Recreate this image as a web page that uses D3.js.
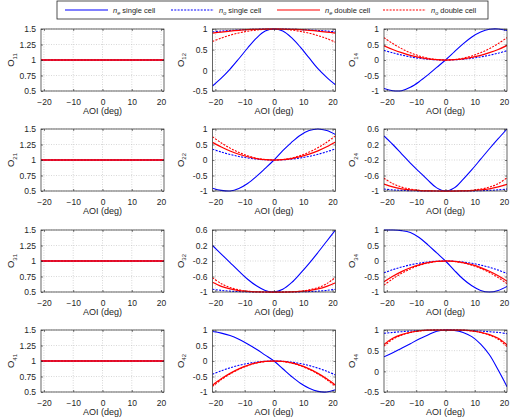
<!DOCTYPE html>
<html>
<head>
<meta charset="utf-8">
<script src="https://cdn.jsdelivr.net/npm/d3@7"></script>
<style>
body { margin: 0; background: #fff; }
text { font-family: "Liberation Sans", Arial, sans-serif; fill: #262626; }
</style>
</head>
<body>
<div id="chart"></div>
<script>
// angle of incidence samples (deg)
const AOI = [-21, -18, -15, -12, -9, -6, -3, 0, 3, 6, 9, 12, 15, 18, 21];
const AOI_TICKS = [-20, -10, 0, 10, 20];

// series order: ne single, no single, ne double, no double
const SERIES_SUB = ['e', 'o', 'e', 'o'];
const SERIES_TEXT = ['single cell', 'single cell', 'double cell', 'double cell'];

const ONES = [1, 1, 1, 1, 1, 1, 1, 1, 1, 1, 1, 1, 1, 1, 1];
const O11 = [ONES, ONES, ONES, ONES];
const O21 = [ONES, ONES, ONES, ONES];
const O31 = [ONES, ONES, ONES, ONES];
const O41 = [ONES, ONES, ONES, ONES];

const O12 = [
  [-0.38, -0.19, 0.03, 0.28, 0.54, 0.78, 0.95, 1, 0.95, 0.79, 0.56, 0.3, 0.04, -0.17, -0.35],
  [0.93, 0.95, 0.965, 0.977, 0.987, 0.994, 0.999, 1, 0.999, 0.994, 0.987, 0.977, 0.965, 0.95, 0.93],
  [0.9, 0.927, 0.95, 0.968, 0.982, 0.992, 0.998, 1, 0.998, 0.992, 0.982, 0.968, 0.95, 0.927, 0.9],
  [0.7, 0.78, 0.85, 0.905, 0.945, 0.975, 0.994, 1, 0.994, 0.974, 0.942, 0.9, 0.84, 0.77, 0.68]
];
const O14 = [
  [-0.92, -0.99, -0.99, -0.88, -0.7, -0.48, -0.24, 0, 0.26, 0.52, 0.74, 0.9, 0.99, 1.0, 0.95],
  [0.31, 0.23, 0.16, 0.1, 0.056, 0.025, 0.006, 0, 0.006, 0.024, 0.055, 0.098, 0.153, 0.22, 0.3],
  [0.46, 0.338, 0.235, 0.15, 0.085, 0.038, 0.009, 0, 0.009, 0.038, 0.085, 0.15, 0.235, 0.338, 0.47],
  [0.72, 0.53, 0.367, 0.235, 0.132, 0.059, 0.015, 0, 0.015, 0.059, 0.132, 0.235, 0.367, 0.53, 0.72]
];
const O22 = [
  [-0.91, -0.98, -1.0, -0.92, -0.76, -0.53, -0.27, 0, 0.3, 0.57, 0.8, 0.95, 1.0, 0.95, 0.82],
  [0.35, 0.257, 0.179, 0.114, 0.064, 0.029, 0.007, 0, 0.007, 0.029, 0.066, 0.118, 0.184, 0.265, 0.36],
  [0.57, 0.419, 0.291, 0.186, 0.105, 0.047, 0.012, 0, 0.012, 0.047, 0.107, 0.189, 0.296, 0.426, 0.58],
  [0.75, 0.551, 0.383, 0.245, 0.138, 0.061, 0.015, 0, 0.016, 0.064, 0.143, 0.255, 0.398, 0.573, 0.78]
];
const O24 = [
  [0.42, 0.2, -0.04, -0.28, -0.5, -0.72, -0.92, -1, -0.92, -0.7, -0.45, -0.18, 0.09, 0.35, 0.6],
  [-0.95, -0.971, -0.984, -0.992, -0.997, -0.999, -1, -1, -1, -0.999, -0.997, -0.992, -0.984, -0.971, -0.95],
  [-0.82, -0.896, -0.944, -0.973, -0.99, -0.997, -1, -1, -1, -0.997, -0.99, -0.973, -0.944, -0.896, -0.83],
  [-0.67, -0.81, -0.9, -0.95, -0.982, -0.995, -1, -1, -1, -0.995, -0.982, -0.95, -0.9, -0.81, -0.66]
];
const O32 = [
  [0.2, -0.02, -0.24, -0.46, -0.67, -0.84, -0.96, -1, -0.93, -0.76, -0.52, -0.26, 0.02, 0.31, 0.6],
  [-0.93, -0.959, -0.978, -0.989, -0.996, -0.999, -1, -1, -1, -0.999, -0.996, -0.989, -0.978, -0.959, -0.93],
  [-0.75, -0.855, -0.922, -0.962, -0.986, -0.996, -1, -1, -1, -0.996, -0.986, -0.962, -0.922, -0.855, -0.76],
  [-0.63, -0.785, -0.885, -0.944, -0.98, -0.994, -1, -1, -1, -0.994, -0.98, -0.944, -0.885, -0.785, -0.62]
];
const O34 = [
  [1.0, 1.0, 0.98, 0.92, 0.76, 0.52, 0.26, 0, -0.3, -0.58, -0.8, -0.95, -1.0, -0.95, -0.82],
  [-0.38, -0.279, -0.194, -0.124, -0.07, -0.031, -0.008, 0, -0.008, -0.033, -0.073, -0.131, -0.204, -0.294, -0.4],
  [-0.67, -0.492, -0.342, -0.219, -0.123, -0.055, -0.014, 0, -0.013, -0.053, -0.119, -0.212, -0.332, -0.478, -0.65],
  [-0.78, -0.573, -0.398, -0.255, -0.143, -0.064, -0.016, 0, -0.015, -0.06, -0.134, -0.238, -0.372, -0.536, -0.73]
];
const O42 = [
  [0.95, 0.9, 0.82, 0.7, 0.55, 0.38, 0.19, 0, -0.25, -0.5, -0.72, -0.88, -0.98, -1.0, -0.93],
  [-0.43, -0.316, -0.219, -0.14, -0.079, -0.035, -0.009, 0, -0.009, -0.037, -0.083, -0.147, -0.23, -0.331, -0.45],
  [-0.78, -0.573, -0.398, -0.255, -0.143, -0.064, -0.016, 0, -0.016, -0.064, -0.143, -0.255, -0.398, -0.573, -0.78],
  [-0.82, -0.602, -0.418, -0.268, -0.151, -0.067, -0.017, 0, -0.017, -0.067, -0.151, -0.268, -0.418, -0.602, -0.82]
];
const O44 = [
  [0.35, 0.45, 0.56, 0.67, 0.78, 0.88, 0.97, 1, 0.99, 0.94, 0.84, 0.66, 0.4, 0.03, -0.37],
  [0.92, 0.941, 0.959, 0.974, 0.985, 0.993, 0.998, 1, 0.998, 0.993, 0.985, 0.974, 0.959, 0.941, 0.91],
  [0.65, 0.8, 0.89, 0.945, 0.978, 0.994, 0.999, 1, 0.999, 0.994, 0.978, 0.945, 0.89, 0.8, 0.64],
  [0.61, 0.775, 0.875, 0.94, 0.975, 0.993, 0.999, 1, 0.999, 0.993, 0.975, 0.94, 0.875, 0.775, 0.6]
];

const TICKS_FLAT = [0.5, 0.75, 1, 1.25, 1.5];
const TICKS_HALF = [-0.5, 0, 0.5, 1];
const TICKS_FULL = [-1, -0.5, 0, 0.5, 1];
const TICKS_LOW = [-1, -0.6, -0.2, 0.2, 0.6];

const PANELS = [
  { name: '11', data: O11, ticks: TICKS_FLAT },
  { name: '12', data: O12, ticks: TICKS_HALF },
  { name: '14', data: O14, ticks: TICKS_FULL },
  { name: '21', data: O21, ticks: TICKS_FLAT },
  { name: '22', data: O22, ticks: TICKS_FULL },
  { name: '24', data: O24, ticks: TICKS_LOW },
  { name: '31', data: O31, ticks: TICKS_FLAT },
  { name: '32', data: O32, ticks: TICKS_LOW },
  { name: '34', data: O34, ticks: TICKS_FULL },
  { name: '41', data: O41, ticks: TICKS_FLAT },
  { name: '42', data: O42, ticks: TICKS_FULL },
  { name: '44', data: O44, ticks: TICKS_HALF }
];

const WIDTH = 510;
const HEIGHT = 420;
const COL_LEFT = [41, 212.5, 384];
const ROW_TOP = [29, 129, 230, 330];
const PLOT_W = 123;
const PLOT_H = 62;

const COLORS = ['#0000ff', '#0000ff', '#ff0000', '#ff0000'];
const DASHES = [null, '2,1.3', null, '2,1.3'];
const WIDTHS = [1.1, 1.1, 1.25, 1.1];
// red solid goes on top so coincident curves read as red
const DRAW_ORDER = [0, 1, 3, 2];
const AXIS_COLOR = '#262626';

document.addEventListener('DOMContentLoaded', function() {
  drawChart();
});

function drawChart()
{
  var svg = d3.select('#chart').append('svg')
    .attr('width', WIDTH)
    .attr('height', HEIGHT);

  PANELS.forEach(function(panel, i) {
    var left = COL_LEFT[i % 3];
    var top = ROW_TOP[Math.floor(i / 3)];
    drawPanel(svg, panel, left, top, i);
  });

  drawLegend(svg);
}

function drawPanel(svg, panel, left, top, idx)
{
  var x = d3.scaleLinear().domain([-21, 21]).range([0, PLOT_W]);
  var ticks = panel.ticks;
  var y = d3.scaleLinear()
    .domain([ticks[0], ticks[ticks.length - 1]])
    .range([PLOT_H, 0]);
  var flat = panel.ticks === TICKS_FLAT;

  var g = svg.append('g').attr('transform', 'translate(' + left + ',' + top + ')');

  g.append('rect')
    .attr('width', PLOT_W).attr('height', PLOT_H)
    .style('fill', '#fff');

  // dotted grid
  g.selectAll('.vgrid').data(AOI_TICKS).enter().append('line')
    .attr('x1', function(d) { return x(d); }).attr('x2', function(d) { return x(d); })
    .attr('y1', 0).attr('y2', PLOT_H)
    .style('stroke', '#bdbdbd').style('stroke-width', 0.6)
    .style('stroke-dasharray', '1,1.5');
  g.selectAll('.hgrid').data(ticks).enter().append('line')
    .attr('y1', function(d) { return y(d); }).attr('y2', function(d) { return y(d); })
    .attr('x1', 0).attr('x2', PLOT_W)
    .style('stroke', '#bdbdbd').style('stroke-width', 0.6)
    .style('stroke-dasharray', '1,1.5');

  // curves
  var clipId = 'clip' + idx;
  g.append('clipPath').attr('id', clipId)
    .append('rect').attr('x', 0).attr('y', -1).attr('width', PLOT_W).attr('height', PLOT_H + 2);

  var line = d3.line()
    .x(function(d, j) { return x(AOI[j]); })
    .y(function(d) { return y(d); })
    .curve(d3.curveCatmullRom);

  DRAW_ORDER.forEach(function(s) {
    g.append('path')
      .attr('d', line(panel.data[s]))
      .attr('clip-path', 'url(#' + clipId + ')')
      .style('fill', 'none')
      .style('stroke', COLORS[s])
      .style('stroke-width', flat && s === 2 ? 1.5 : WIDTHS[s])
      .style('stroke-dasharray', DASHES[s]);
  });

  // axes (MATLAB style: inward ticks on all sides)
  g.append('g').attr('transform', 'translate(0,' + PLOT_H + ')')
    .call(d3.axisBottom(x).tickValues(AOI_TICKS).tickSize(-2).tickPadding(8));
  g.append('g')
    .call(d3.axisLeft(y).tickValues(ticks).tickSize(-2).tickPadding(5)
      .tickFormat(function(d) { return String(d); }));
  g.append('g')
    .call(d3.axisTop(x).tickValues(AOI_TICKS).tickSize(-2).tickFormat(''));
  g.append('g').attr('transform', 'translate(' + PLOT_W + ',0)')
    .call(d3.axisRight(y).tickValues(ticks).tickSize(-2).tickFormat(''));

  g.selectAll('.domain').remove();
  g.selectAll('.tick line').style('stroke', AXIS_COLOR).style('stroke-width', 0.6);
  g.selectAll('.tick text').style('font-size', '8.5px').style('fill', AXIS_COLOR)
    .style('font-family', '"Liberation Sans", Arial, sans-serif');

  g.append('rect')
    .attr('width', PLOT_W).attr('height', PLOT_H)
    .style('fill', 'none').style('stroke', AXIS_COLOR).style('stroke-width', 0.7);

  // labels
  g.append('text')
    .attr('x', PLOT_W / 2).attr('y', PLOT_H + 23)
    .attr('text-anchor', 'middle')
    .style('font-size', '9px')
    .text('AOI (deg)');

  var yl = g.append('text')
    .attr('transform', 'translate(' + (idx % 3 === 0 ? -27 : -29) + ',' + (PLOT_H / 2) + ') rotate(-90)')
    .attr('text-anchor', 'middle')
    .style('font-size', '9.5px');
  yl.append('tspan').text('O');
  yl.append('tspan').attr('dy', 2.5).style('font-size', '6px').text(panel.name);
}

function drawLegend(svg)
{
  var lg = svg.append('g');
  lg.append('rect')
    .attr('x', 57).attr('y', 1).attr('width', 431).attr('height', 18)
    .style('fill', '#fff').style('stroke', '#262626').style('stroke-width', 0.8);

  var itemX = d3.scaleLinear().domain([0, 3]).range([65, 383]);

  SERIES_SUB.forEach(function(sub, s) {
    var x0 = itemX(s);
    lg.append('line')
      .attr('x1', x0).attr('x2', x0 + 43).attr('y1', 10).attr('y2', 10)
      .style('stroke', COLORS[s]).style('stroke-width', 1.1)
      .style('stroke-dasharray', DASHES[s]);
    var t = lg.append('text')
      .attr('x', x0 + 48).attr('y', 12.5)
      .style('font-size', '7.5px');
    t.append('tspan').style('font-style', 'italic').text('n');
    t.append('tspan').attr('dy', 2).style('font-style', 'italic').style('font-size', '5.5px').text(sub);
    t.append('tspan').attr('dy', -2).text(' ' + SERIES_TEXT[s]);
  });
}
</script>
</body>
</html>
